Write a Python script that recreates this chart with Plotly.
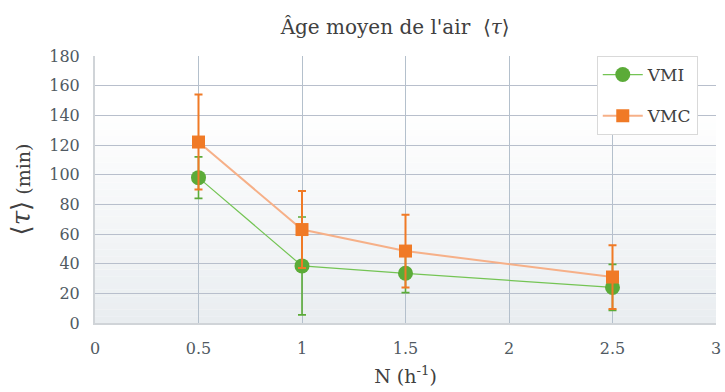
import plotly.graph_objects as go

# Data
x_vals = [0.5, 1.0, 1.5, 2.5]
vmi = [98, 38.5, 33.5, 24]
vmi_err = [14, 33, 13, 15.5]
vmc = [122, 63, 48.5, 31]
vmc_err = [32, 26, 24.5, 21.5]
x_ticks = [0, 0.5, 1, 1.5, 2, 2.5, 3]
x_tick_labels = ["0", "0.5", "1", "1.5", "2", "2.5", "3"]
y_ticks = [0, 20, 40, 60, 80, 100, 120, 140, 160, 180]

FONT = "DejaVu Serif"
green = "#5bab38"
orange = "#f07a26"

fig = go.Figure()

# background gradient bands (layout styling)
n = 40
top_c = (255, 255, 255)
bot_c = (233, 237, 240)
shapes = []
for i in range(n):
    y0 = i / n
    y1 = (i + 1) / n
    t = max(0.0, 1 - (y0 + y1) / 2 / 0.8)
    c = tuple(int(round(top_c[k] + (bot_c[k] - top_c[k]) * t)) for k in range(3))
    shapes.append(dict(type="rect", xref="x domain", yref="y domain",
                       x0=0, x1=1, y0=y0, y1=y1, layer="below",
                       line=dict(width=0), fillcolor="rgb(%d,%d,%d)" % c))

fig.add_trace(go.Scatter(
    x=x_vals, y=vmi, name="VMI", mode="lines+markers", legendgroup="a",
    line=dict(color="#74c454", width=1.2),
    marker=dict(symbol="circle", size=15, color=green),
    error_y=dict(type="data", array=vmi_err, visible=True, color=green,
                 thickness=1.6, width=4),
))
fig.add_trace(go.Scatter(
    x=x_vals, y=vmc, name="VMC", mode="lines+markers", legendgroup="b",
    line=dict(color="#f6b088", width=2),
    marker=dict(symbol="square", size=13, color=orange),
    error_y=dict(type="data", array=vmc_err, visible=True, color=orange,
                 thickness=2, width=4),
))

fig.update_layout(
    width=725, height=392,
    margin=dict(l=95, r=9, t=56, b=69, autoexpand=False),
    paper_bgcolor="white",
    plot_bgcolor="rgba(0,0,0,0)",
    shapes=shapes,
    font=dict(family=FONT, color="#505a62", size=16),
    title=dict(text="Âge moyen de l'air  ⟨<i>τ</i>⟩",
               x=0.545, xanchor="center", y=1 - 27 / 392, yanchor="middle",
               font=dict(family=FONT, size=20, color="#404040")),
    legend=dict(x=0.808, xanchor="left", y=1.0, yanchor="top",
                bgcolor="white", bordercolor="#d9d9d9", borderwidth=1,
                font=dict(family=FONT, size=17, color="#404040"),
                itemwidth=40, tracegroupgap=16),
    showlegend=True,
)
fig.update_xaxes(
    range=[0, 3], tickvals=x_ticks, ticktext=x_tick_labels, automargin=False,
    ticklabeloverflow="allow",
    showgrid=True, gridcolor="#b4c0cc", gridwidth=1,
    zeroline=False, showline=True, linecolor="#d0d4d8", linewidth=2,
    mirror=False, ticks="", ticklabelstandoff=10,
    title=dict(text="N (h<sup>-1</sup>)", standoff=12,
               font=dict(family=FONT, size=19, color="#404040")),
)
fig.update_yaxes(
    range=[0, 180], tickvals=y_ticks, automargin=False,
    showgrid=True, gridcolor="#b8bfcc", gridwidth=1,
    zeroline=False, showline=True, linecolor="#d0d4d8", linewidth=2,
    ticks="", ticklabelstandoff=10,
    title=dict(text="<span style='font-size:26px'>⟨<i>τ</i>⟩</span> (min)", standoff=14,
               font=dict(family=FONT, size=19, color="#404040")),
)

fig.write_html(
    "out.html",
    config={"displayModeBar": False},
    post_script="document.body.style.margin='0';document.body.style.overflow='hidden';",
)
